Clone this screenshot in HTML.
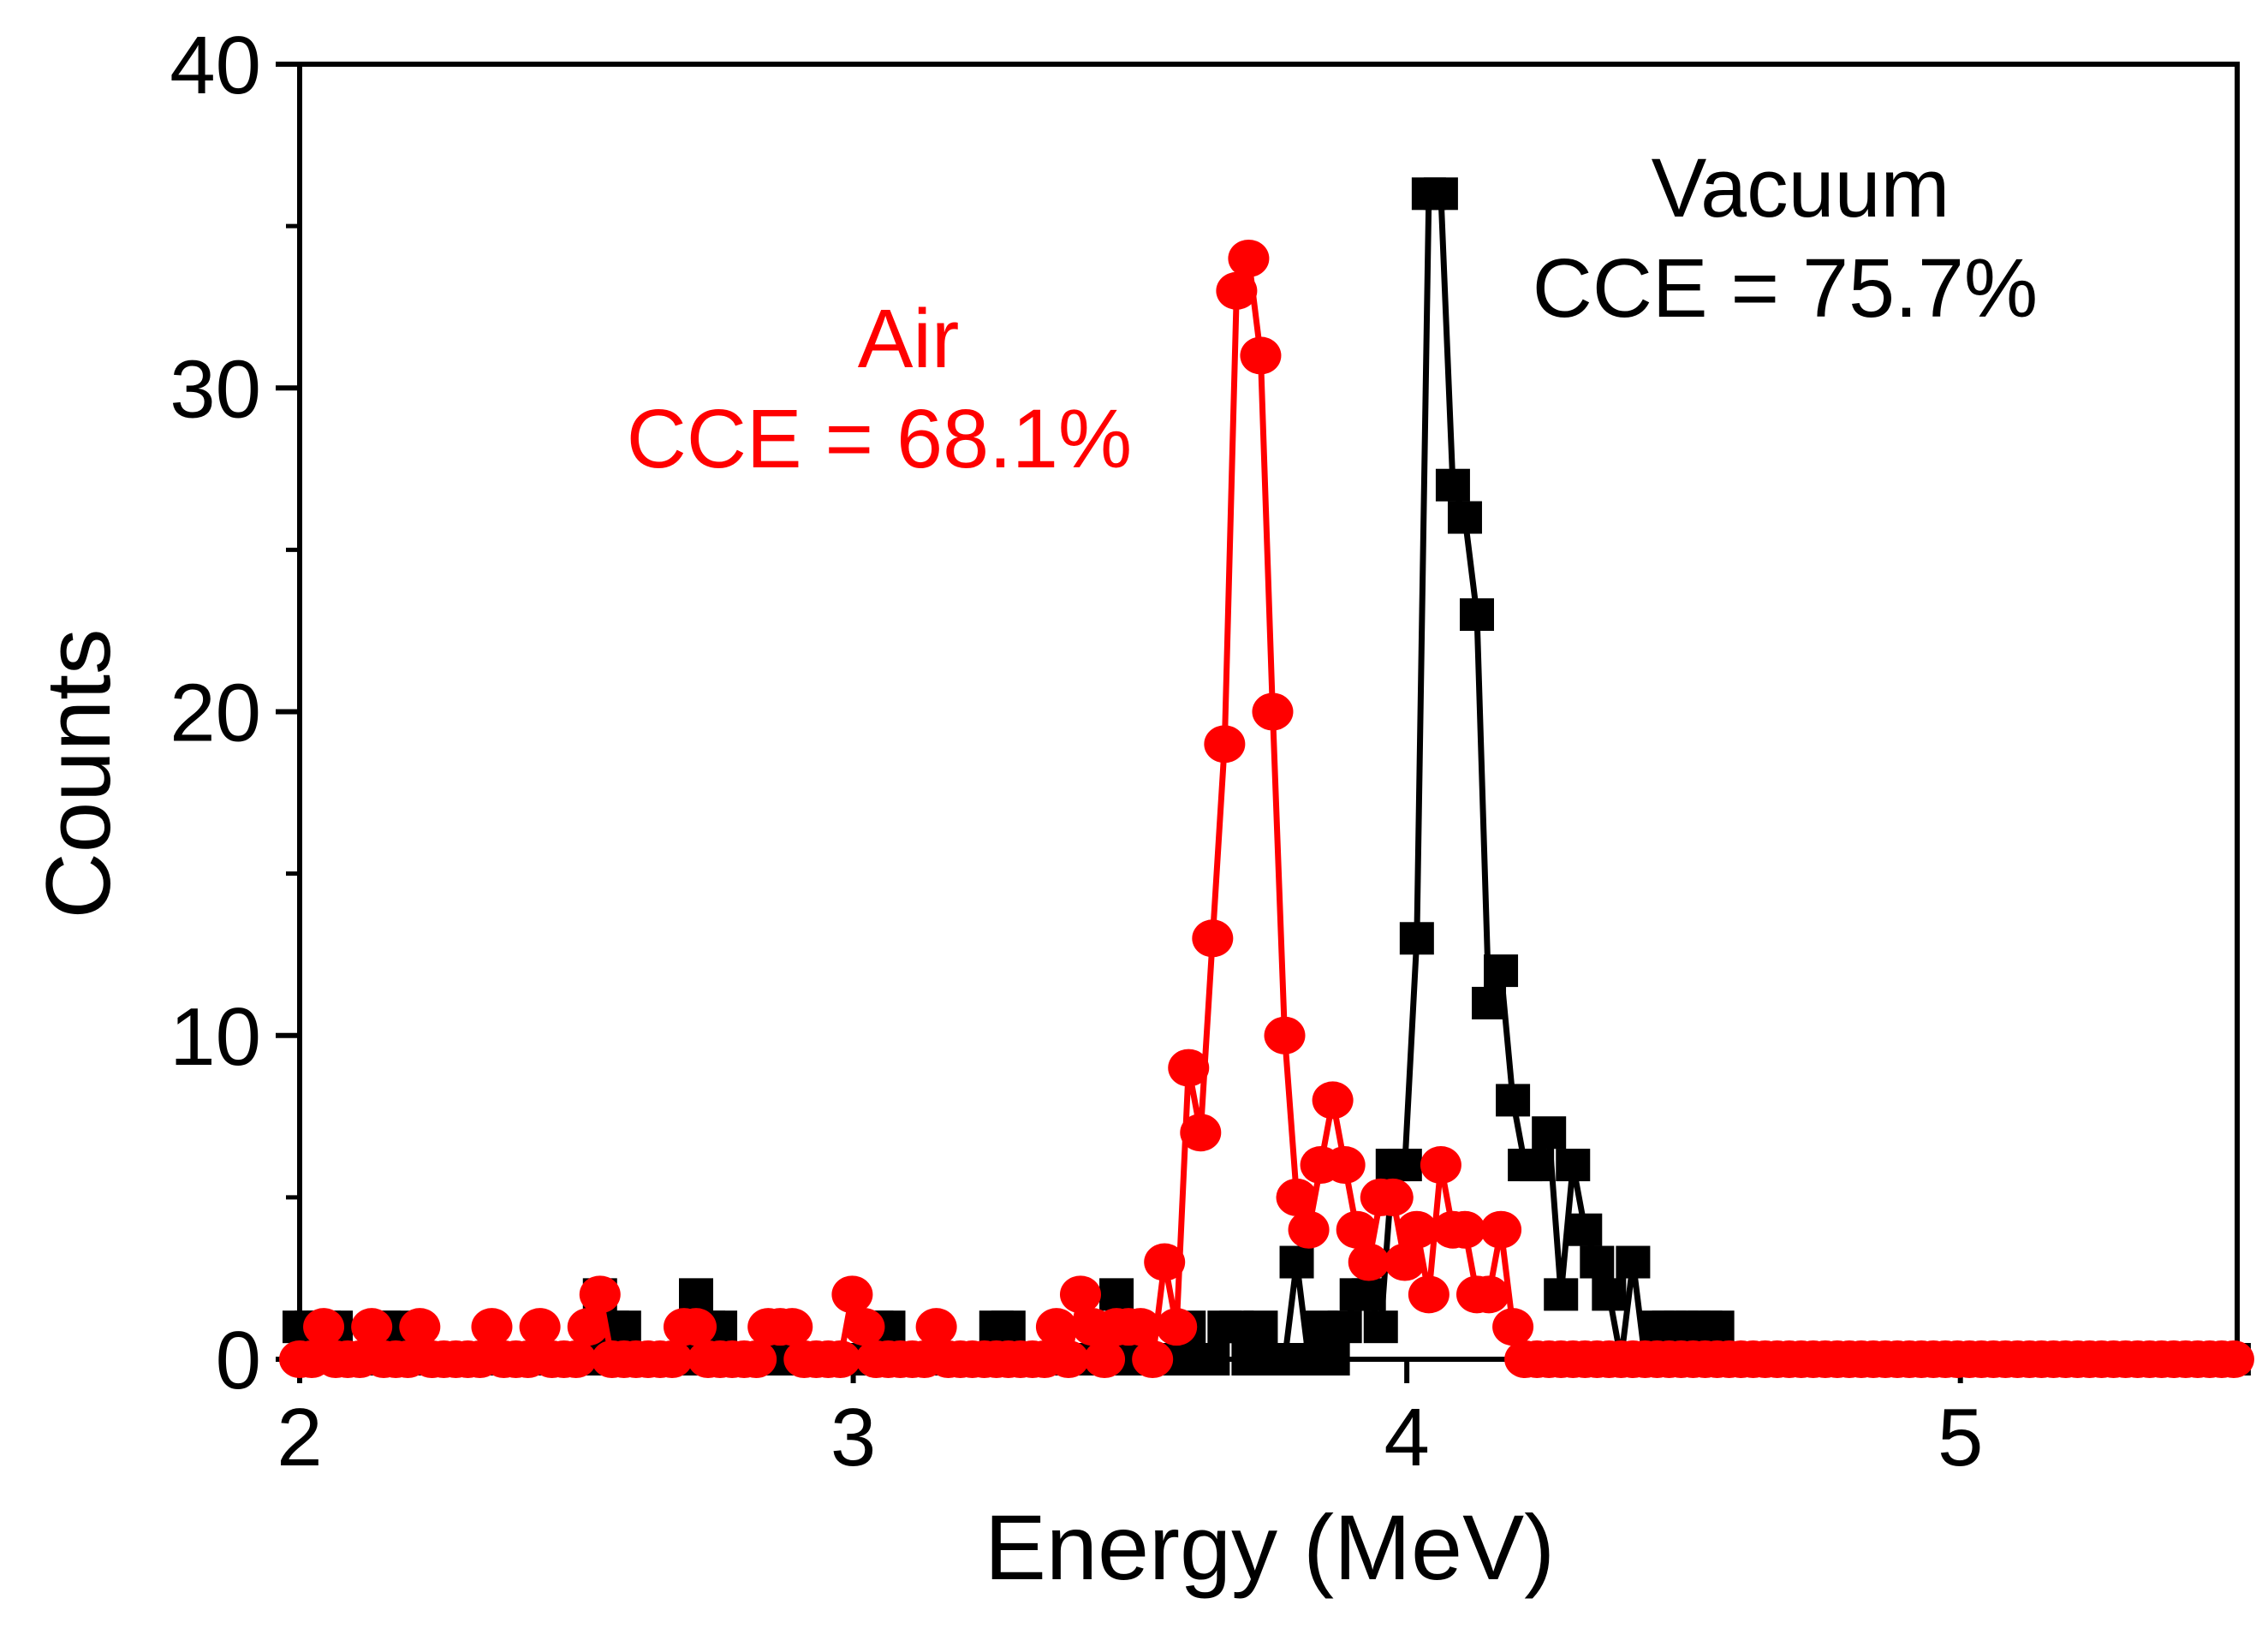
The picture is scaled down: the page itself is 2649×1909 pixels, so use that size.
<!DOCTYPE html>
<html><head><meta charset="utf-8"><style>
html,body{margin:0;padding:0;background:#fff;}
svg{display:block;}
text{font-family:"Liberation Sans",Arial,sans-serif;}
</style></head><body>
<svg id="chart" width="2649" height="1909" viewBox="0 0 2649 1909" xmlns="http://www.w3.org/2000/svg">
<g id="axes"></g>
<g id="series-vacuum"></g>
<g id="series-air"></g>
<text x="2103" y="253" font-size="97" text-anchor="middle" fill="#000">Vacuum</text>
<text x="2085" y="370" font-size="97" text-anchor="middle" fill="#000">CCE = 75.7%</text>
<text x="1061" y="429" font-size="97" text-anchor="middle" fill="#ff0000">Air</text>
<text x="1027" y="546" font-size="97" text-anchor="middle" fill="#ff0000">CCE = 68.1%</text>
<text x="0" y="0" font-size="107" text-anchor="middle" transform="translate(128,904) rotate(-90)">Counts</text>
<text x="1483" y="1845" font-size="108" text-anchor="middle">Energy (MeV)</text>
</svg>
<script>
const xTicks = [2, 3, 4, 5];
const yTicks = [0, 10, 20, 30, 40];
const binStart = 2.0;
const binWidth = 0.0217;
// counts per bin (bin i at energy binStart + i*binWidth), 162 bins
const airCounts = [
0,0,1,0,0,0,1,0,0,0, 1,0,0,0,0,0,1,0,0,0, 1,0,0,0,1,2,0,0,0,0,
0,0,1,1,0,0,0,0,0,1, 1,1,0,0,0,0,2,1,0,0, 0,0,0,1,0,0,0,0,0,0,
0,0,0,1,0,2,1,0,1,1, 1,0,3,1,9,7,13,19,33,34, 31,20,10,5,4,6,8,6,4,3,
5,5,3,4,2,6,4,4,2,2, 4,1,0,0,0,0,0,0,0,0, 0,0,0,0,0,0,0,0,0,0,
0,0,0,0,0,0,0,0,0,0, 0,0,0,0,0,0,0,0,0,0, 0,0,0,0,0,0,0,0,0,0,
0,0,0,0,0,0,0,0,0,0, 0,0];
const vacuumCounts = [
1,1,1,1,0,0,0,1,1,0, 0,0,0,0,0,0,0,0,0,0, 0,0,0,0,0,2,1,1,0,0,
0,0,0,2,1,1,0,0,0,0, 0,0,0,0,0,0,0,0,1,1, 0,0,0,0,0,0,0,0,1,1,
0,0,0,0,0,0,0,0,2,0, 0,0,0,0,1,0,0,1,1,0, 1,0,0,3,0,1,0,1,2,2,
1,6,6,13,36,36,27,26,23,11, 12,8,6,6,7,2,6,4,3,2, 0,3,0,1,1,1,1,1,1,0,
0,0,0,0,0,0,0,0,0,0, 0,0,0,0,0,0,0,0,0,0, 0,0,0,0,0,0,0,0,0,0,
0,0,0,0,0,0,0,0,0,0, 0,0];

const NS = "http://www.w3.org/2000/svg";
const L = 350, R = 2613, T = 75, B = 1588;
const xMin = 2, xMax = 5.5, yMin = 0, yMax = 40;
function xs(v){ return L + (v - xMin) / (xMax - xMin) * (R - L); }
function ys(v){ return B - (v - yMin) / (yMax - yMin) * (B - T); }
function mk(tag, attrs, parent){
  const e = document.createElementNS(NS, tag);
  for (const k in attrs) e.setAttribute(k, attrs[k]);
  parent.appendChild(e);
  return e;
}
const axes = document.getElementById('axes');
const frame = mk('rect', {x:L, y:T, width:R-L, height:B-T, fill:'none', stroke:'#000', 'stroke-width':6}, axes);


xTicks.forEach(v => {
  const t = mk('line', {x1:xs(v), x2:xs(v), y1:B, y2:B+28, stroke:'#000', 'stroke-width':6}, axes);
  
  
  const lb = mk('text', {x:xs(v), y:1712, 'font-size':96, 'text-anchor':'middle'}, axes);
  lb.textContent = v;
  
  
  if (v + 0.5 <= xMax) {
    const m = mk('line', {x1:xs(v+0.5), x2:xs(v+0.5), y1:B, y2:B+16, stroke:'#000', 'stroke-width':5}, axes);
    
    
  }
});
yTicks.forEach(v => {
  const t = mk('line', {x1:L-28, x2:L, y1:ys(v), y2:ys(v), stroke:'#000', 'stroke-width':6}, axes);
  
  
  const lb = mk('text', {x:305, y:ys(v)+34, 'font-size':96, 'text-anchor':'end'}, axes);
  lb.textContent = v;
  
  
  if (v + 5 <= yMax) {
    const m = mk('line', {x1:L-16, x2:L, y1:ys(v+5), y2:ys(v+5), stroke:'#000', 'stroke-width':5}, axes);
    
    
  }
});
function drawSeries(gid, counts, color, shape){
  const g = document.getElementById(gid);
  const pts = counts.map((c, i) => [xs(binStart + i * binWidth), ys(c)]);
  const line = mk('polyline', {points: pts.map(p => p.join(',')).join(' '), fill:'none', stroke:color, 'stroke-width':7, 'stroke-linejoin':'round'}, g);
  
  
  pts.forEach(p => {
    let m;
    if (shape === 'square') {
      m = mk('rect', {x:p[0]-20, y:p[1]-19, width:40, height:38, fill:color}, g);
      
    } else {
      m = mk('ellipse', {cx:p[0], cy:p[1], rx:24, ry:22, fill:color}, g);
      
    }
    
  });
}
drawSeries('series-vacuum', vacuumCounts, '#000', 'square');
drawSeries('series-air', airCounts, '#ff0000', 'circle');
</script>
</body></html>
